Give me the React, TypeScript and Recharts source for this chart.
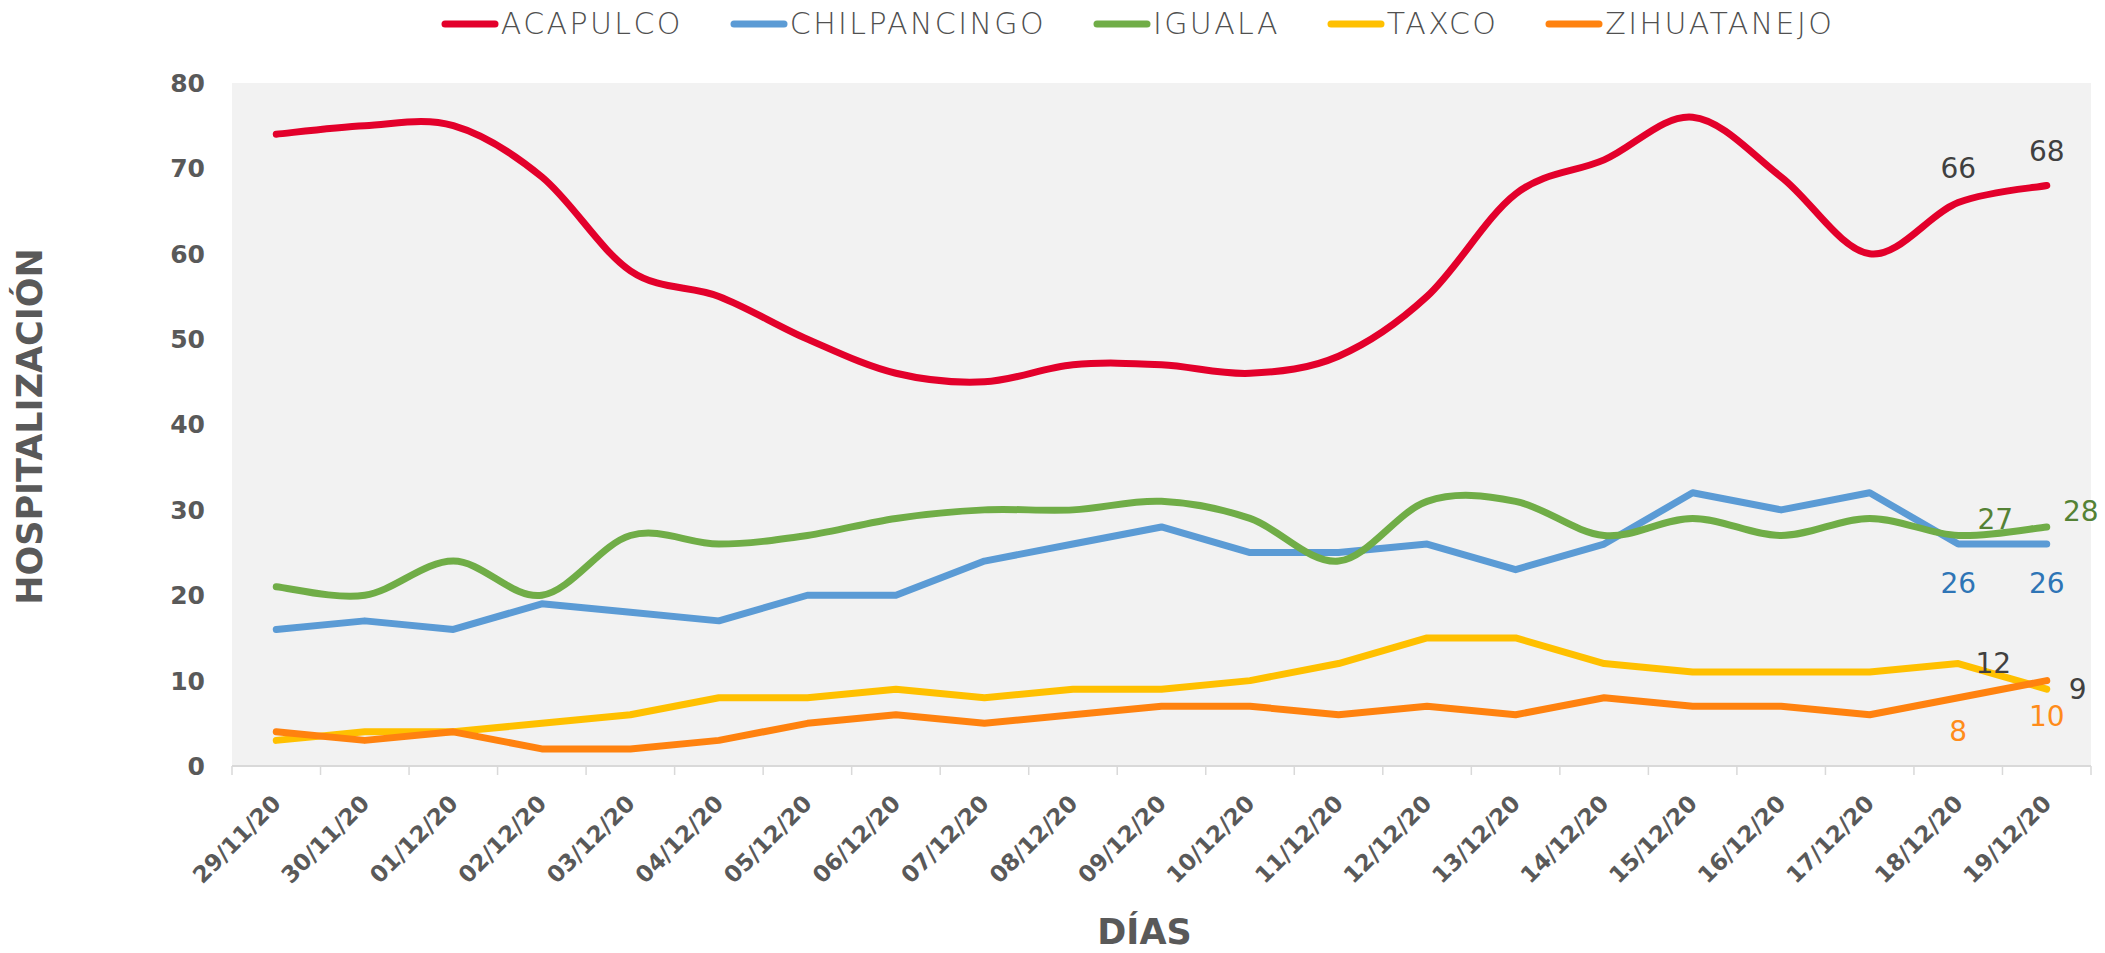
import React from 'react';
import { LineChart, Line, XAxis, YAxis, CartesianGrid, Legend, LabelList } from 'recharts';

// ---- data ----
const DATES = [
  '29/11/20', '30/11/20', '01/12/20', '02/12/20', '03/12/20', '04/12/20', '05/12/20',
  '06/12/20', '07/12/20', '08/12/20', '09/12/20', '10/12/20', '11/12/20', '12/12/20',
  '13/12/20', '14/12/20', '15/12/20', '16/12/20', '17/12/20', '18/12/20', '19/12/20',
];
const ACAPULCO = [74, 75, 75, 69, 58, 55, 50, 46, 45, 47, 47, 46, 48, 55, 67, 71, 76, 69, 60, 66, 68];
const CHILPANCINGO = [16, 17, 16, 19, 18, 17, 20, 20, 24, 26, 28, 25, 25, 26, 23, 26, 32, 30, 32, 26, 26];
const IGUALA = [21, 20, 24, 20, 27, 26, 27, 29, 30, 30, 31, 29, 24, 31, 31, 27, 29, 27, 29, 27, 28];
const TAXCO = [3, 4, 4, 5, 6, 8, 8, 9, 8, 9, 9, 10, 12, 15, 15, 12, 11, 11, 11, 12, 9];
const ZIHUATANEJO = [4, 3, 4, 2, 2, 3, 5, 6, 5, 6, 7, 7, 6, 7, 6, 8, 7, 7, 6, 8, 10];
const Y_TICKS = [0, 10, 20, 30, 40, 50, 60, 70, 80];
const SERIES_NAMES = ['ACAPULCO', 'CHILPANCINGO', 'IGUALA', 'TAXCO', 'ZIHUATANEJO'];
const LABELED_INDICES = [19, 20];

const data = DATES.map((d, i) => ({
  date: d,
  ACAPULCO: ACAPULCO[i],
  CHILPANCINGO: CHILPANCINGO[i],
  IGUALA: IGUALA[i],
  TAXCO: TAXCO[i],
  ZIHUATANEJO: ZIHUATANEJO[i],
}));

// ---- styles ----
const W = 2105;
const H = 953;
const PLOT_LEFT = 232;
const PLOT_RIGHT = 2091;
const BAND = (PLOT_RIGHT - PLOT_LEFT) / DATES.length;
const FONT = '"DejaVu Sans", "Noto Sans", sans-serif';
const GREY = '#595959';

const COLORS: Record<string, string> = {
  ACAPULCO: '#e3002b',
  CHILPANCINGO: '#5b9bd5',
  IGUALA: '#70ad47',
  TAXCO: '#ffc000',
  ZIHUATANEJO: '#ff820f',
};
const SMOOTH: Record<string, boolean> = {
  ACAPULCO: true,
  CHILPANCINGO: false,
  IGUALA: true,
  TAXCO: false,
  ZIHUATANEJO: false,
};
// label offsets (dx, dy from the point) and colours for the last two points
const LABEL_STYLE: Record<string, { color: string; off: [number, number][] }> = {
  ACAPULCO: { color: '#404040', off: [[0, -34], [0, -34]] },
  CHILPANCINGO: { color: '#2e75b6', off: [[0, 39], [0, 39]] },
  IGUALA: { color: '#548235', off: [[37, -16], [34, -15]] },
  TAXCO: { color: '#404040', off: [[35, 0], [31, 0]] },
  ZIHUATANEJO: { color: '#ff8c1a', off: [[0, 34], [0, 36]] },
};

// Excel-like smoothing (Catmull-Rom through the points)
function excelSmooth(context: any) {
  let pts: [number, number][] = [];
  return {
    areaStart() {},
    areaEnd() {},
    lineStart() {
      pts = [];
    },
    lineEnd() {
      const n = pts.length;
      if (!n) return;
      context.moveTo(pts[0][0], pts[0][1]);
      if (n === 2) {
        context.lineTo(pts[1][0], pts[1][1]);
        return;
      }
      for (let i = 0; i < n - 1; i++) {
        const p0 = pts[Math.max(0, i - 1)];
        const p1 = pts[i];
        const p2 = pts[i + 1];
        const p3 = pts[Math.min(n - 1, i + 2)];
        context.bezierCurveTo(
          p1[0] + (p2[0] - p0[0]) / 6,
          p1[1] + (p2[1] - p0[1]) / 6,
          p2[0] - (p3[0] - p1[0]) / 6,
          p2[1] - (p3[1] - p1[1]) / 6,
          p2[0],
          p2[1]
        );
      }
    },
    point(x: number, y: number) {
      pts.push([+x, +y]);
    },
  };
}

const XTick = (props: any) => {
  const { x, y, payload, index } = props;
  const half = BAND / 2;
  const ax = x + 6;
  const ay = y + 39;
  return (
    <g>
      <line x1={x - half} y1={y} x2={x - half} y2={y + 9} stroke="#d9d9d9" strokeWidth={1.5} />
      {index === DATES.length - 1 && (
        <line x1={x + half} y1={y} x2={x + half} y2={y + 9} stroke="#d9d9d9" strokeWidth={1.5} />
      )}
      <text
        x={ax}
        y={ay}
        textAnchor="end"
        transform={`rotate(-45, ${ax}, ${ay})`}
        fontFamily={FONT}
        fontWeight="bold"
        fontSize={23}
        fill={GREY}
      >
        {payload.value}
      </text>
    </g>
  );
};

const YTitle = (props: any) => {
  const vb = props.viewBox || { x: 0, y: 83, width: 232, height: 683 };
  const cx = 30;
  const cy = vb.y + vb.height / 2 + 2;
  return (
    <text
      x={cx}
      y={cy}
      textAnchor="middle"
      dominantBaseline="central"
      transform={`rotate(-90, ${cx}, ${cy})`}
      fontFamily={FONT}
      fontWeight="bold"
      fontSize={35}
      fill={GREY}
    >
      HOSPITALIZACIÓN
    </text>
  );
};

const XTitle = (props: any) => {
  const vb = props.viewBox || { x: 232, y: 766, width: 1859, height: 187 };
  return (
    <text
      x={vb.x + vb.width / 2 - 17}
      y={vb.y + 178}
      textAnchor="middle"
      fontFamily={FONT}
      fontWeight="bold"
      fontSize={35}
      fill={GREY}
    >
      DÍAS
    </text>
  );
};

const LegendContent = () => (
  <div
    style={{
      display: 'flex',
      justifyContent: 'center',
      alignItems: 'center',
      height: 32,
      paddingLeft: 170,
      boxSizing: 'border-box',
      width: W,
    }}
  >
    {SERIES_NAMES.map((name, i) => (
      <div
        key={name}
        style={{
          display: 'flex',
          alignItems: 'center',
          marginRight: i === SERIES_NAMES.length - 1 ? 0 : 47,
        }}
      >
        <svg width={58} height={10} style={{ display: 'block' }}>
          <line x1={4} y1={5} x2={54} y2={5} stroke={COLORS[name]} strokeWidth={7} strokeLinecap="round" />
        </svg>
        <span
          style={{
            marginLeft: 2,
            fontFamily: FONT,
            fontWeight: 300,
            fontSize: 30,
            letterSpacing: 2.4,
            color: '#505050',
            lineHeight: '32px',
          }}
        >
          {name}
        </span>
      </div>
    ))}
  </div>
);

const makeLabel = (name: string) => (props: any) => {
  const { x, y, value, index } = props;
  const k = LABELED_INDICES.indexOf(index);
  if (k < 0) return null;
  const st = LABEL_STYLE[name];
  const [dx, dy] = st.off[k];
  return (
    <text
      x={x + dx}
      y={y + dy}
      textAnchor="middle"
      dominantBaseline="central"
      fontFamily={FONT}
      fontSize={28}
      fill={st.color}
    >
      {value}
    </text>
  );
};

export default function App() {
  return (
    <div style={{ position: 'absolute', left: 0, top: 0, width: W, height: H, background: '#fff' }}>
      <LineChart width={W} height={H} data={data} margin={{ top: 51, right: W - PLOT_RIGHT, bottom: 0, left: 0 }}>
        <CartesianGrid fill="#f2f2f2" stroke="none" horizontal={false} vertical={false} />
        <Legend
          verticalAlign="top"
          content={<LegendContent />}
          wrapperStyle={{ top: 8, left: 0, width: W, height: 32 }}
        />
        <XAxis
          dataKey="date"
          interval={0}
          height={H - 766}
          padding={{ left: BAND / 2, right: BAND / 2 }}
          tickLine={false}
          tickSize={0}
          tickMargin={0}
          axisLine={{ stroke: '#d9d9d9', strokeWidth: 2 }}
          tick={<XTick />}
          label={<XTitle />}
        />
        <YAxis
          width={PLOT_LEFT}
          domain={[0, 80]}
          ticks={Y_TICKS}
          interval={0}
          axisLine={false}
          tickLine={false}
          tickSize={0}
          tickMargin={27}
          tick={{ fontFamily: FONT, fontWeight: 'bold', fontSize: 25, fill: GREY }}
          label={<YTitle />}
        />
        {SERIES_NAMES.map((name) => (
          <Line
            key={name}
            dataKey={name}
            type={SMOOTH[name] ? (excelSmooth as any) : 'linear'}
            stroke={COLORS[name]}
            strokeWidth={7}
            strokeLinecap="round"
            strokeLinejoin="round"
            dot={false}
            activeDot={false}
            isAnimationActive={false}
          >
            <LabelList dataKey={name} content={makeLabel(name)} />
          </Line>
        ))}
      </LineChart>
    </div>
  );
}
